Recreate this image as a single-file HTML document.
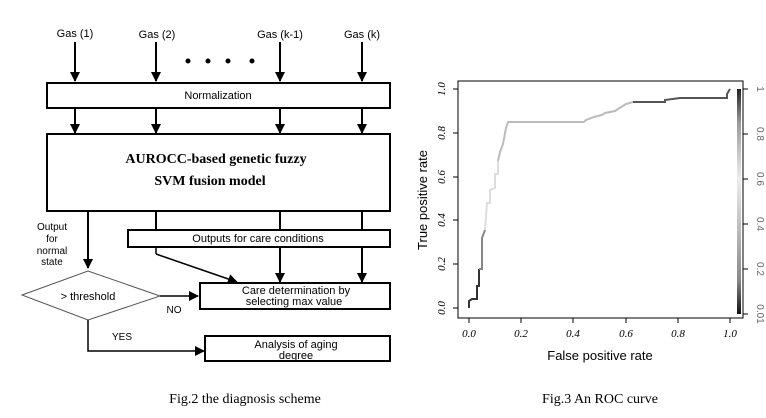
<!DOCTYPE html>
<html><head><style>
html,body{margin:0;padding:0;background:#fff;width:766px;height:418px;overflow:hidden}
</style></head><body>
<svg width="766" height="418" xmlns="http://www.w3.org/2000/svg" font-family="Liberation Sans, sans-serif">
<defs>
<marker id="a" markerWidth="10" markerHeight="10" refX="9" refY="5" orient="auto" markerUnits="userSpaceOnUse"><path d="M0,0 L10,5 L0,10 z" fill="#000"/></marker>
<linearGradient id="cb" x1="0" y1="1" x2="0" y2="0">
<stop offset="0" stop-color="#111"/><stop offset="0.15" stop-color="#888"/><stop offset="0.6" stop-color="#eee"/><stop offset="0.85" stop-color="#999"/><stop offset="1" stop-color="#222"/></linearGradient>
</defs>
<g font-size="11" fill="#000">
<text x="75" y="37" text-anchor="middle">Gas (1)</text>
<text x="157" y="38" text-anchor="middle">Gas (2)</text>
<text x="280" y="38" text-anchor="middle">Gas (k-1)</text>
<text x="362" y="38" text-anchor="middle">Gas (k)</text>
</g>
<g stroke="#000" stroke-width="2" marker-end="url(#a)">
<line x1="75" y1="42" x2="75" y2="81"/><line x1="156" y1="42" x2="156" y2="81"/>
<line x1="280" y1="42" x2="280" y2="81"/><line x1="362" y1="42" x2="362" y2="81"/>
<line x1="75" y1="109" x2="75" y2="133"/><line x1="156" y1="109" x2="156" y2="133"/>
<line x1="280" y1="109" x2="280" y2="133"/><line x1="362" y1="109" x2="362" y2="133"/>
<line x1="88" y1="212" x2="88" y2="268"/>
<line x1="280" y1="212" x2="280" y2="282"/><line x1="362" y1="212" x2="362" y2="282"/>
</g>
<g fill="#000"><circle cx="188" cy="61" r="2.5"/><circle cx="208" cy="61" r="2.5"/><circle cx="228" cy="61" r="2.5"/><circle cx="252" cy="61" r="2.5"/></g>
<g fill="#fff" stroke="#000" stroke-width="2">
<rect x="47" y="83" width="343" height="25"/>
<rect x="47" y="134" width="343" height="77"/>
<rect x="128" y="230" width="262" height="17"/>
<rect x="200" y="283" width="190" height="26"/>
<rect x="205" y="336" width="185" height="25"/>
</g>
<line x1="156" y1="212" x2="156" y2="230" stroke="#000" stroke-width="2"/>
<polygon points="22,295 88,271 160,296 88,320" fill="#fff" stroke="#555" stroke-width="1"/>
<text x="218" y="99" font-size="11" text-anchor="middle">Normalization</text>
<text x="216" y="163" font-size="14" font-weight="bold" font-family="Liberation Serif, serif" text-anchor="middle">AUROCC-based genetic fuzzy</text>
<text x="210" y="185" font-size="14" font-weight="bold" font-family="Liberation Serif, serif" text-anchor="middle">SVM fusion model</text>
<text x="258" y="242" font-size="11" text-anchor="middle">Outputs for care conditions</text>
<text x="296" y="294" font-size="11" text-anchor="middle">Care determination by</text>
<text x="294" y="305" font-size="11" text-anchor="middle">selecting max value</text>
<text x="296" y="348" font-size="11" text-anchor="middle">Analysis of aging</text>
<text x="296" y="359" font-size="11" text-anchor="middle">degree</text>
<g font-size="10" text-anchor="middle"><text x="52" y="230">Output</text><text x="52" y="242">for</text><text x="52" y="254">normal</text><text x="52" y="265">state</text></g>
<text x="88" y="300" font-size="11" text-anchor="middle">&gt; threshold</text>
<text x="174" y="313" font-size="10" text-anchor="middle">NO</text>
<text x="122" y="340" font-size="10" text-anchor="middle">YES</text>
<line x1="156" y1="247" x2="156" y2="254" stroke="#000" stroke-width="1.5"/>
<line x1="156" y1="254" x2="237" y2="282" stroke="#000" stroke-width="1.5" marker-end="url(#a)"/>
<line x1="160" y1="296" x2="198" y2="296" stroke="#000" stroke-width="1.5" marker-end="url(#a)"/>
<polyline points="88,320 88,351 204,351" fill="none" stroke="#000" stroke-width="1.5" marker-end="url(#a)"/>
<text x="245" y="403" font-size="14" font-family="Liberation Serif, serif" text-anchor="middle">Fig.2 the diagnosis scheme</text>

<!-- ROC -->
<rect x="458" y="81" width="285" height="237" fill="none" stroke="#000" stroke-width="1"/>
<rect x="737" y="89" width="4" height="225" fill="url(#cb)"/>
<g stroke="#000" stroke-width="1">
<line x1="469" y1="318" x2="469" y2="323"/><line x1="521" y1="318" x2="521" y2="323"/><line x1="573" y1="318" x2="573" y2="323"/><line x1="626" y1="318" x2="626" y2="323"/><line x1="678" y1="318" x2="678" y2="323"/><line x1="730" y1="318" x2="730" y2="323"/>
<line x1="453" y1="308" x2="458" y2="308"/><line x1="453" y1="264" x2="458" y2="264"/><line x1="453" y1="220" x2="458" y2="220"/><line x1="453" y1="177" x2="458" y2="177"/><line x1="453" y1="133" x2="458" y2="133"/><line x1="453" y1="89" x2="458" y2="89"/>
<line x1="743" y1="89" x2="748" y2="89"/><line x1="743" y1="134" x2="748" y2="134"/><line x1="743" y1="179" x2="748" y2="179"/><line x1="743" y1="224" x2="748" y2="224"/><line x1="743" y1="269" x2="748" y2="269"/><line x1="743" y1="314" x2="748" y2="314"/>
</g>
<g font-size="11" font-style="italic" font-family="Liberation Serif, serif" text-anchor="middle">
<text x="469" y="337">0.0</text><text x="521" y="337">0.2</text><text x="573" y="337">0.4</text><text x="626" y="337">0.6</text><text x="678" y="337">0.8</text><text x="730" y="337">1.0</text>
<text transform="translate(445,308) rotate(-90)">0.0</text><text transform="translate(445,264) rotate(-90)">0.2</text><text transform="translate(445,220) rotate(-90)">0.4</text><text transform="translate(445,177) rotate(-90)">0.6</text><text transform="translate(445,133) rotate(-90)">0.8</text><text transform="translate(445,89) rotate(-90)">1.0</text>
</g>
<g font-size="10" fill="#666" text-anchor="middle">
<text transform="translate(757,89) rotate(90)">1</text><text transform="translate(757,134) rotate(90)">0.8</text><text transform="translate(757,179) rotate(90)">0.6</text><text transform="translate(757,224) rotate(90)">0.4</text><text transform="translate(757,269) rotate(90)">0.2</text><text transform="translate(757,314) rotate(90)">0.01</text>
</g>
<text x="600" y="360" font-size="13" text-anchor="middle">False positive rate</text>
<text transform="translate(427,200) rotate(-90)" font-size="13" text-anchor="middle">True positive rate</text>
<g fill="none" stroke-width="2">
<polyline stroke="#333" points="469,308 469,301 472,299 477,299 477,286 479,286 479,269"/>
<polyline stroke="#888" points="479,269 482,269 482,238 485,230"/>
<polyline stroke="#ddd" points="485,230 487,203 490,203 490,190 495,188 495,174 498,174 498,161"/>
<polyline stroke="#bbb" points="498,161 500,152 503,144 506,128 508,122 584,122"/>
<polyline stroke="#bbb" points="584,122 586,120 594,117 602,115 605,113 615,111 618,109 626,104 633,102"/>
<polyline stroke="#555" points="633,102 665,102 665,100 680,98 727,98 727,94 730,89"/>
</g>
<text x="600" y="403" font-size="14" font-family="Liberation Serif, serif" text-anchor="middle">Fig.3 An ROC curve</text>
</svg>
</body></html>
